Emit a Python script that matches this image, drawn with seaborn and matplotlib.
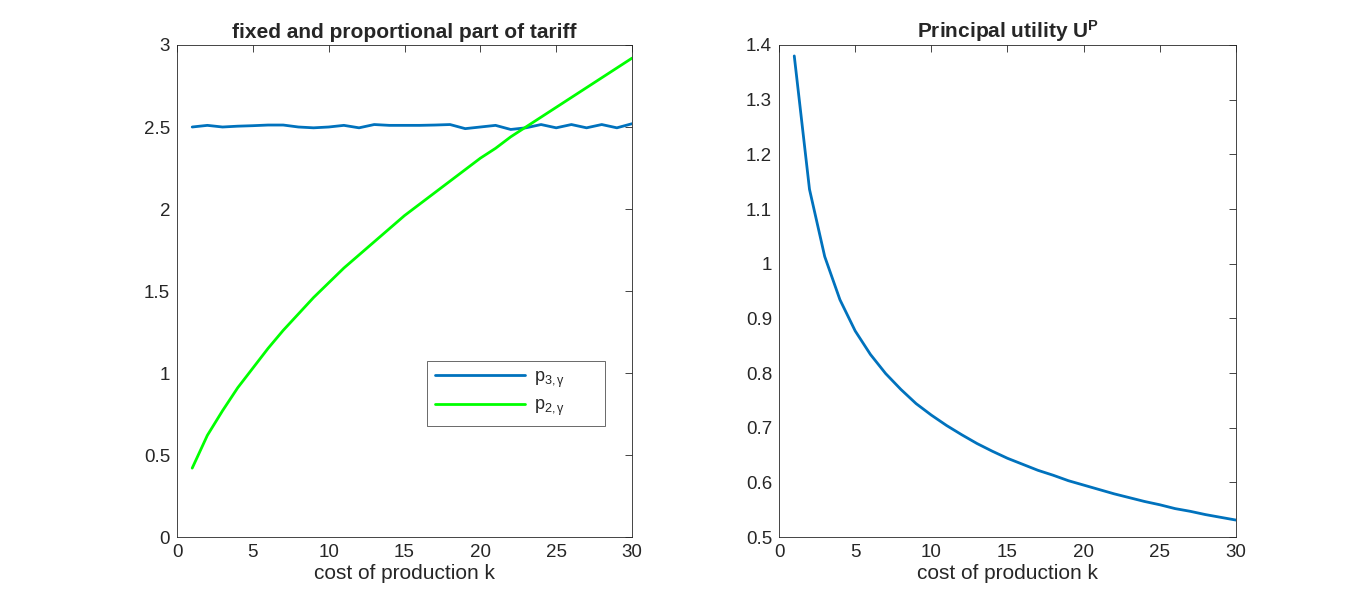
import matplotlib
matplotlib.use("Agg")
import matplotlib.pyplot as plt
import seaborn as sns
import pandas as pd

# cost of production k
k = list(range(1, 31))

# fixed part p3,gamma (nearly constant around 2.5)
p3 = [2.50, 2.51, 2.50, 2.505, 2.508, 2.512, 2.512, 2.50, 2.495, 2.50,
      2.51, 2.495, 2.515, 2.51, 2.51, 2.51, 2.512, 2.515, 2.49, 2.50,
      2.51, 2.485, 2.495, 2.515, 2.495, 2.515, 2.495, 2.515, 2.495, 2.52]

# proportional part p2,gamma
p2 = [0.42, 0.62, 0.77, 0.91, 1.03, 1.15, 1.26, 1.36, 1.46, 1.55,
      1.64, 1.72, 1.80, 1.88, 1.96, 2.03, 2.10, 2.17, 2.24, 2.31,
      2.37, 2.44, 2.50, 2.56, 2.62, 2.68, 2.74, 2.80, 2.86, 2.92]

# principal utility U^P
up = [1.38, 1.136, 1.013, 0.934, 0.877, 0.834, 0.799, 0.770, 0.744, 0.723,
      0.704, 0.687, 0.671, 0.657, 0.644, 0.633, 0.622, 0.613, 0.603, 0.595,
      0.587, 0.579, 0.572, 0.565, 0.559, 0.552, 0.547, 0.541, 0.536, 0.531]

sns.set_style("white")
plt.rcParams["font.family"] = ["Liberation Sans", "DejaVu Sans"]
plt.rcParams["mathtext.fontset"] = "custom"
plt.rcParams["mathtext.rm"] = "Liberation Sans"
plt.rcParams["mathtext.it"] = "Liberation Sans"
plt.rcParams["mathtext.bf"] = "Liberation Sans:bold"

blue = "#0072BD"
green = "#00FF00"

df = pd.DataFrame({"k": k, "p3": p3, "p2": p2, "up": up})

fig = plt.figure(figsize=(13.66, 6.04), dpi=100)
ax1 = fig.add_axes([0.1296, 0.1109, 0.3331, 0.8146])
ax2 = fig.add_axes([0.5703, 0.1109, 0.3345, 0.8146])

sns.lineplot(data=df, x="k", y="p3", ax=ax1, color=blue, linewidth=2, label=r"p$_{3,\gamma}$")
sns.lineplot(data=df, x="k", y="p2", ax=ax1, color=green, linewidth=2, label=r"p$_{2,\gamma}$")
sns.lineplot(data=df, x="k", y="up", ax=ax2, color=blue, linewidth=2, legend=False)

ax1.set_xlim(0, 30)
ax1.set_ylim(0, 3)
ax1.set_yticks([0, 0.5, 1, 1.5, 2, 2.5, 3])
ax1.set_yticklabels(["0", "0.5", "1", "1.5", "2", "2.5", "3"])
ax1.set_title("fixed and proportional part of tariff", fontsize=15, fontweight="bold", pad=5)

ax2.set_xlim(0, 30)
ax2.set_ylim(0.5, 1.4)
ax2.set_yticks([0.5, 0.6, 0.7, 0.8, 0.9, 1.0, 1.1, 1.2, 1.3, 1.4])
ax2.set_yticklabels(["0.5", "0.6", "0.7", "0.8", "0.9", "1", "1.1", "1.2", "1.3", "1.4"])
ax2.set_title(r"Principal utility U$^\mathbf{P}$", fontsize=15, fontweight="bold", pad=5)

for ax in (ax1, ax2):
    ax.set_xticks([0, 5, 10, 15, 20, 25, 30])
    ax.set_xlabel("cost of production k", fontsize=15, color="#262626", labelpad=2)
    ax.set_ylabel("")
    ax.tick_params(direction="in", top=True, right=True, length=5, width=0.6,
                   labelsize=13.5, colors="#262626", pad=5)
    for s in ax.spines.values():
        s.set_linewidth(0.6)
        s.set_color("#262626")

leg = ax1.legend(loc="lower left", bbox_to_anchor=(0.549, 0.2256, 0.392, 0.124),
                 mode="expand", frameon=True, fancybox=False, fontsize=13,
                 handlelength=5.0, handletextpad=0.5, borderpad=0.45,
                 borderaxespad=0, labelspacing=0.4)
leg.get_frame().set_edgecolor("#262626")
leg.get_frame().set_linewidth(0.6)

fig.savefig("out.png", dpi=100)
